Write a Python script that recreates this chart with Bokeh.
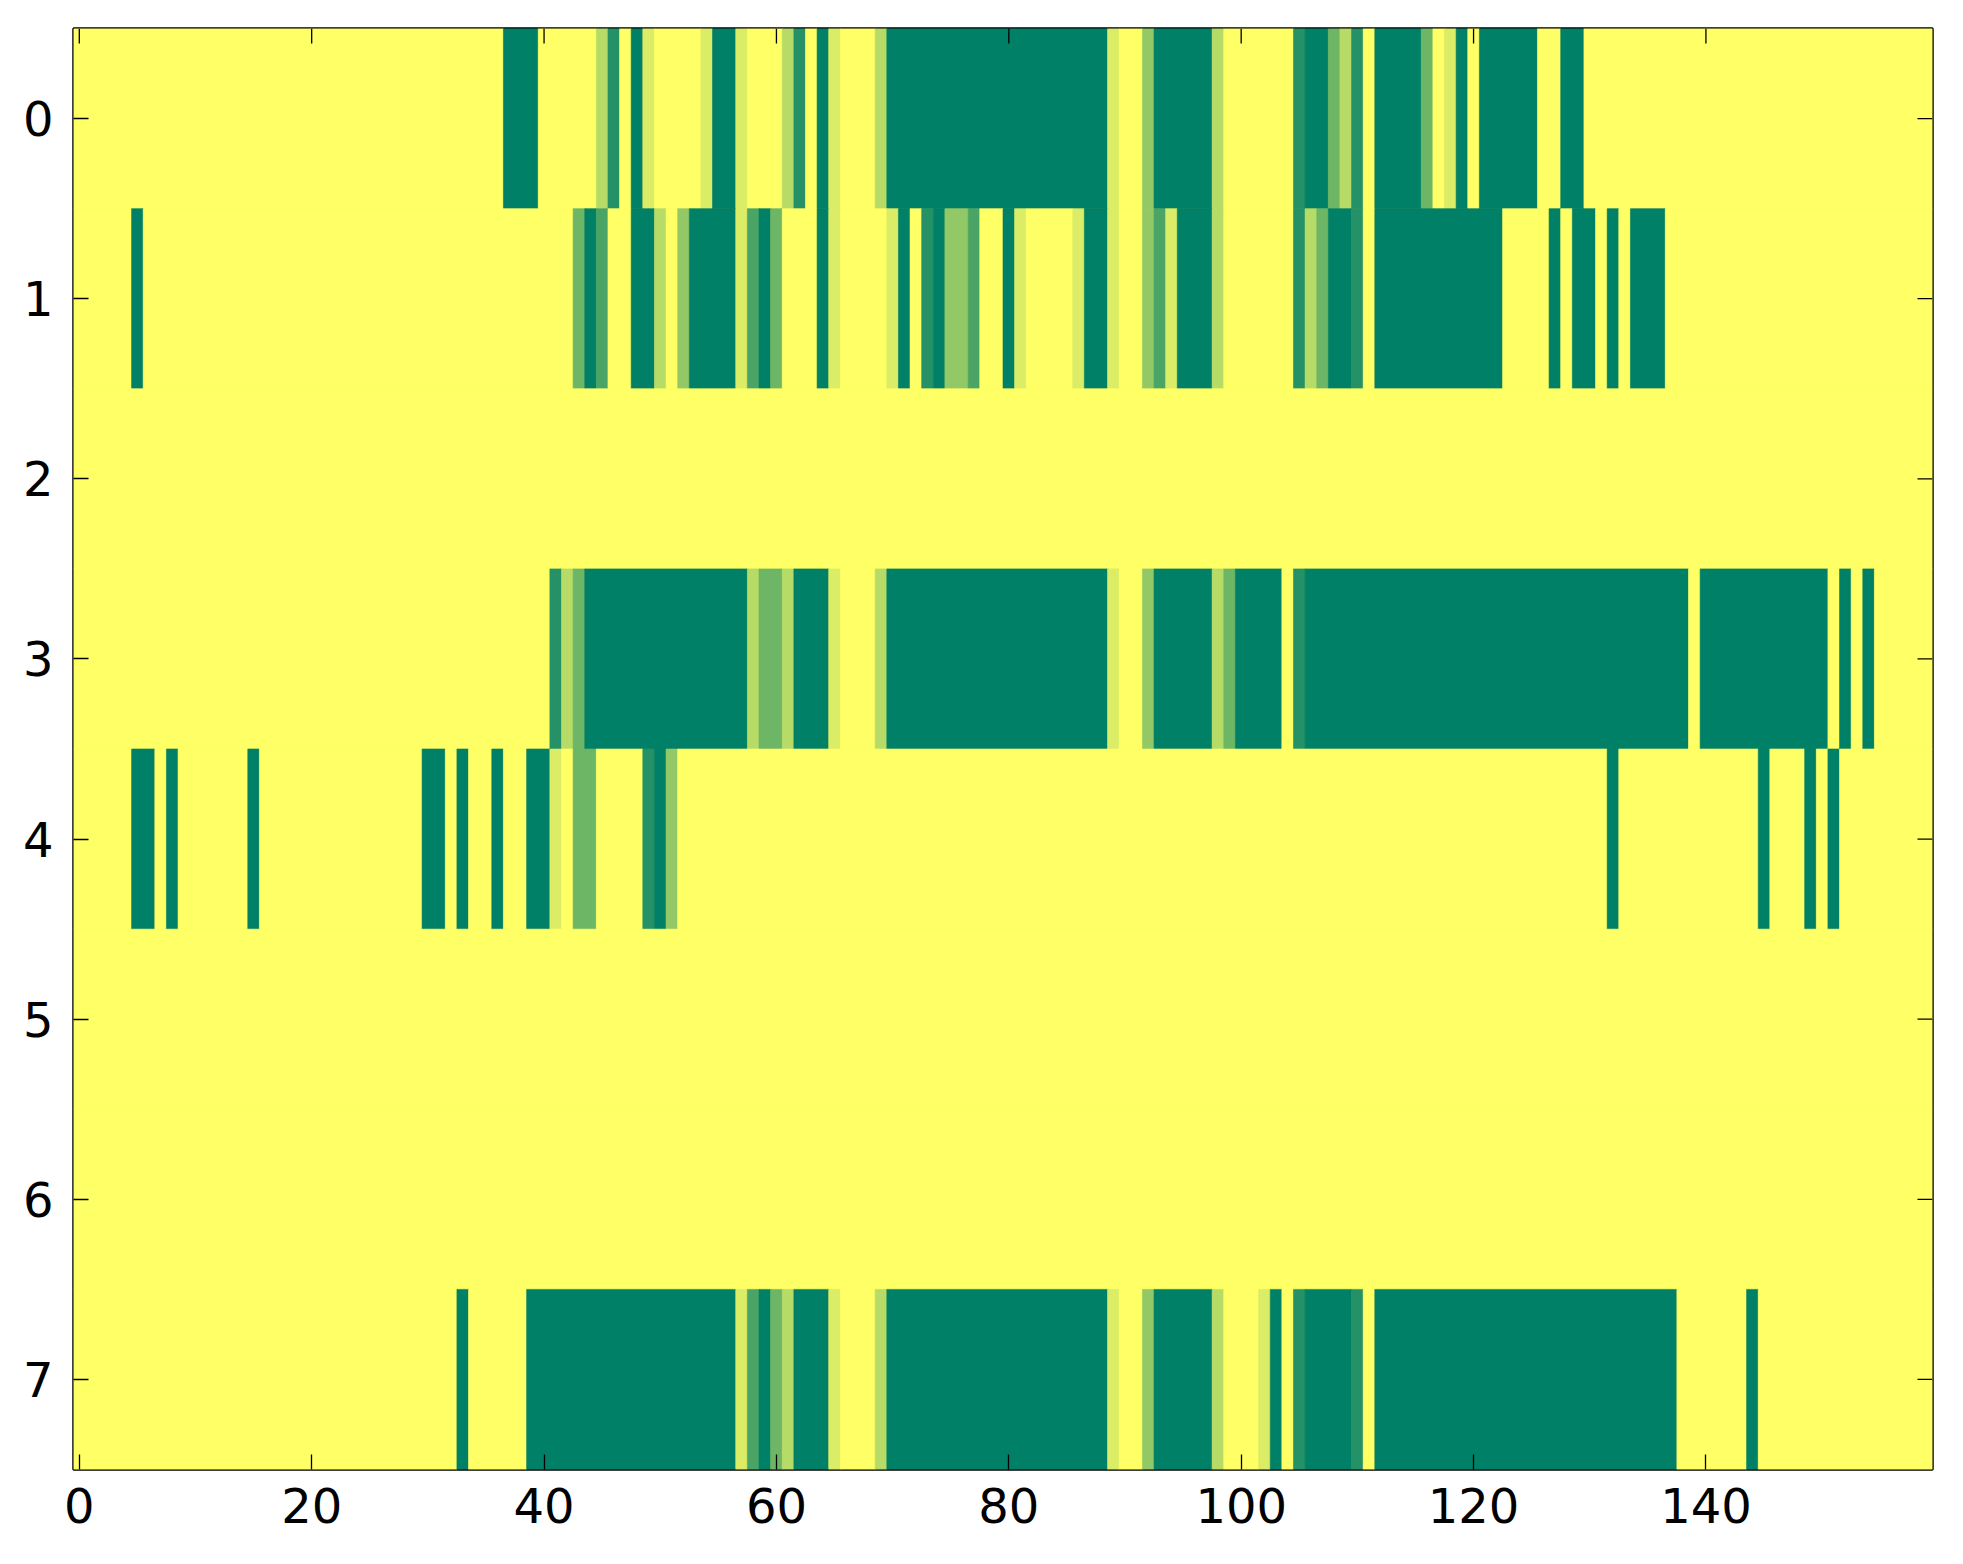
import math
from bokeh.plotting import figure
from bokeh.models import Range1d, FixedTicker, LinearAxis, LinearColorMapper, ColumnDataSource
from bokeh.embed import file_html
from bokeh.resources import INLINE

N_COLS = 160
N_ROWS = 8
DENOM = 7  # values are in sevenths

# non-zero cells per row: (first column, last column, level in sevenths)
row0 = [(37, 39, 7), (45, 45, 2), (46, 46, 6), (48, 48, 7), (49, 49, 1), (54, 54, 1), (55, 56, 7),
        (57, 57, 1), (61, 61, 2), (62, 62, 6), (64, 64, 7), (65, 65, 1), (69, 69, 2), (70, 88, 7),
        (89, 89, 1), (92, 92, 3), (93, 97, 7), (98, 98, 2), (105, 105, 6), (106, 107, 7), (108, 108, 4),
        (109, 109, 2), (110, 110, 6), (112, 115, 7), (116, 116, 4), (118, 118, 1), (119, 119, 7),
        (121, 125, 7), (128, 129, 7)]
row1 = [(5, 5, 7), (43, 43, 4), (44, 44, 7), (45, 45, 5), (48, 49, 7), (50, 50, 2), (52, 52, 3),
        (53, 56, 7), (57, 57, 1), (58, 58, 5), (59, 59, 7), (60, 60, 4), (64, 64, 7), (65, 65, 1),
        (70, 70, 1), (71, 71, 7), (73, 73, 6), (74, 74, 7), (75, 76, 3), (77, 77, 5), (80, 80, 7),
        (81, 81, 1), (86, 86, 1), (87, 88, 7), (89, 89, 1), (92, 92, 3), (93, 93, 5), (94, 94, 1),
        (95, 97, 7), (98, 98, 2), (105, 105, 6), (106, 106, 2), (107, 107, 4), (108, 109, 7),
        (110, 110, 6), (112, 122, 7), (127, 127, 7), (129, 130, 7), (132, 132, 7), (134, 136, 7)]
row2 = []
row3 = [(41, 41, 6), (42, 42, 2), (43, 43, 4), (44, 57, 7), (58, 58, 2), (59, 60, 4), (61, 61, 2),
        (62, 64, 7), (65, 65, 1), (69, 69, 2), (70, 88, 7), (89, 89, 1), (92, 92, 3), (93, 97, 7),
        (98, 98, 2), (99, 99, 4), (100, 103, 7), (105, 105, 6), (106, 138, 7), (140, 150, 7),
        (152, 152, 7), (154, 154, 7)]
row4 = [(5, 6, 7), (8, 8, 7), (15, 15, 7), (30, 31, 7), (33, 33, 7), (36, 36, 7), (39, 40, 7),
        (41, 41, 1), (43, 44, 4), (49, 49, 6), (50, 50, 7), (51, 51, 3), (132, 132, 7), (145, 145, 7),
        (149, 149, 7), (151, 151, 7)]
row5 = []
row6 = []
row7 = [(33, 33, 7), (39, 56, 7), (57, 57, 1), (58, 58, 5), (59, 59, 7), (60, 60, 4), (61, 61, 2),
        (62, 64, 7), (65, 65, 1), (69, 69, 2), (70, 88, 7), (89, 89, 1), (92, 92, 3), (93, 97, 7),
        (98, 98, 2), (102, 102, 1), (103, 103, 7), (105, 105, 6), (106, 109, 7), (110, 110, 6),
        (112, 137, 7), (144, 144, 7)]

rows = [row0, row1, row2, row3, row4, row5, row6, row7]
x_ticks = [0, 20, 40, 60, 80, 100, 120, 140]
y_ticks = [0, 1, 2, 3, 4, 5, 6, 7]

# full matrix of values
matrix = []
for spec in rows:
    vals = [0.0] * N_COLS
    for a, b, lev in spec:
        for c in range(a, b + 1):
            vals[c] = lev / DENOM
    matrix.append(vals)

# merge equal neighbours into runs to avoid seams
left, right, top, bottom, v = [], [], [], [], []
for r, vals in enumerate(matrix):
    start = 0
    for c in range(1, N_COLS + 1):
        if c == N_COLS or vals[c] != vals[start]:
            left.append(start - 0.5)
            right.append(c - 0.5)
            top.append(r - 0.5)
            bottom.append(r + 0.5)
            v.append(vals[start])
            start = c

# summer_r colormap
palette = []
for i in range(256):
    t = 1 - i / 255
    rr, gg, bb = t, 0.5 + 0.5 * t, 0.4
    palette.append("#%02x%02x%02x" % (round(rr * 255), round(gg * 255), round(bb * 255)))
mapper = LinearColorMapper(palette=palette, low=0, high=1)

src = ColumnDataSource(dict(left=left, right=right, top=top, bottom=bottom, v=v))

x_lo, x_hi = -0.5, N_COLS - 0.5
y_top, y_bot = -0.5, N_ROWS - 0.5

p = figure(frame_width=1859, frame_height=1441, output_backend="svg", toolbar_location=None,
           x_range=Range1d(x_lo, x_hi), y_range=Range1d(y_bot, y_top),
           min_border_left=73, min_border_right=22, min_border_top=28, min_border_bottom=85,
           x_axis_location=None, y_axis_location=None)
p.background_fill_color = "#ffff66"
p.border_fill_color = "white"
p.grid.visible = False
p.outline_line_color = "black"
p.outline_line_width = 2.5
p.outline_line_alpha = 1

p.quad(left="left", right="right", top="top", bottom="bottom", source=src,
       fill_color={"field": "v", "transform": mapper},
       line_color={"field": "v", "transform": mapper}, line_width=0.6)

# inward ticks on the top and right edges (mirror of the labelled axes)
p.ray(x=x_ticks, y=[y_top] * len(x_ticks), length=15, length_units="screen",
      angle=-math.pi / 2, line_color="black", line_width=1.3)
p.ray(x=[x_hi] * len(y_ticks), y=y_ticks, length=15, length_units="screen",
      angle=math.pi, line_color="black", line_width=1.3)

FONT = "DejaVu Sans"

def make_axis(ticks, standoff):
    ax = LinearAxis(ticker=FixedTicker(ticks=ticks))
    ax.axis_line_color = None
    ax.major_tick_in = 15
    ax.major_tick_out = 0
    ax.major_tick_line_width = 1.3
    ax.major_tick_line_color = "black"
    ax.minor_tick_line_color = None
    ax.major_label_text_font = FONT
    ax.major_label_text_color = "black"
    ax.major_label_text_font_size = "48px"
    ax.major_label_standoff = standoff
    return ax

p.add_layout(make_axis(x_ticks, 18), "below")
p.add_layout(make_axis(y_ticks, 20), "left")

open("out.html", "w").write(file_html(p, INLINE))
